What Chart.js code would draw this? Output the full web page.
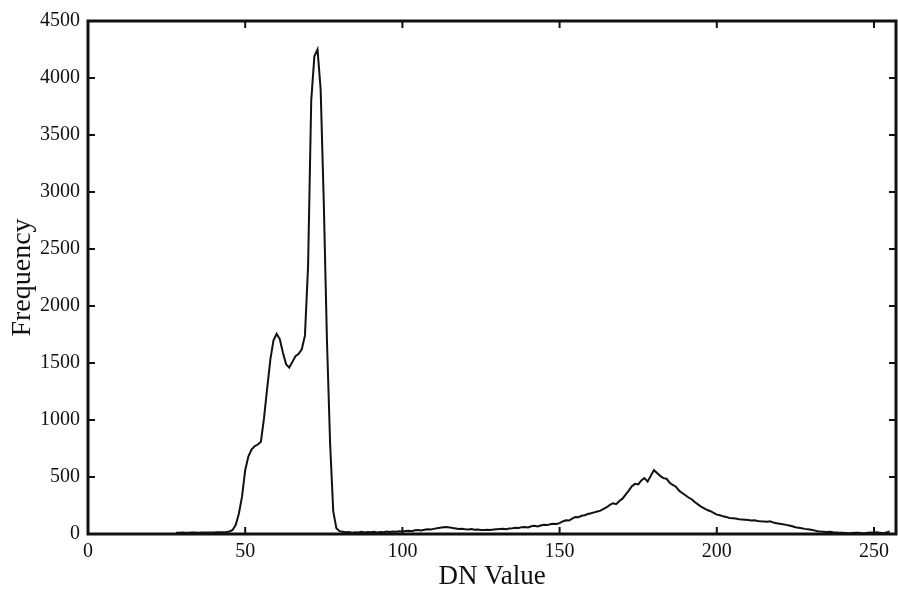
<!DOCTYPE html>
<html>
<head>
<meta charset="utf-8">
<script src="https://cdn.jsdelivr.net/npm/chart.js@4/dist/chart.umd.min.js"></script>
<style>
  html, body { margin: 0; padding: 0; background: #fff; }
  #histChart { display: block; }
</style>
</head>
<body>
<canvas id="histChart" width="898" height="595"></canvas>
<script>
// histogram of DN values, first non-empty bin is 28
const dnStart = 28;
const freq = [
    12, 12, 13, 12, 12, 13, 13, 12, 13, 14, 13, 14, 14, 15, 15, 16, 18, 22,
    35, 80, 180, 330, 560, 680, 740, 770, 785, 810, 1020, 1280, 1530, 1700, 1755,
    1710, 1590, 1490, 1460, 1510, 1560, 1580, 1620, 1740, 2350, 3800, 4190, 4250,
    3900, 2900, 1700, 800, 200, 50, 25,
    20, 15, 18, 12, 16, 14, 19, 13, 17, 15, 20, 14, 18, 16, 22, 17, 21, 19, 24,
    22, 26, 28, 25, 32, 34, 30, 38, 42, 40, 45, 50, 55, 60, 62, 58,
    52, 48, 44, 46, 42, 40, 44, 38, 40, 36, 35, 38, 36, 40, 42, 44, 46, 42, 48, 50,
    55, 52, 60, 62, 58, 68, 72, 66, 75, 80, 78, 85, 90, 88, 95,
    110, 120, 118, 135, 150, 148, 160, 165, 175, 182, 190, 198, 205, 220, 235,
    255, 270, 262, 290, 310, 345, 380, 420, 440, 435, 470, 490, 460, 510, 560,
    535, 510, 490, 485, 450, 430, 415, 380, 360, 340, 320, 305, 280, 260, 240,
    225, 210, 200, 185, 170, 165, 155, 150, 140, 138, 135, 130, 128, 125, 122, 118, 120, 115, 112, 110,
    108, 112, 100, 95, 90, 85, 80, 75, 68, 60, 55, 50, 45, 42, 38, 32, 25, 22, 20, 18,
    20, 16, 14, 12, 10, 8, 6, 8, 10, 12, 8, 6, 10, 14, 12, 16, 10, 6, 14, 22
];
const xTicks = [0, 50, 100, 150, 200, 250];
const yTicks = [0, 500, 1000, 1500, 2000, 2500, 3000, 3500, 4000, 4500];

const points = freq.map((f, i) => ({ x: dnStart + i, y: f }));

// box frame with inward tick marks, like the original plot
const frameTicks = {
    id: 'frameTicks',
    afterDraw(chart) {
        const ctx = chart.ctx;
        const a = chart.chartArea;
        const xs = chart.scales.x;
        const ys = chart.scales.y;
        const len = 7;
        ctx.save();
        ctx.strokeStyle = '#111';
        ctx.lineWidth = 2;
        ctx.beginPath();
        xTicks.forEach(function (v) {
            const px = xs.getPixelForValue(v);
            ctx.moveTo(px, a.bottom); ctx.lineTo(px, a.bottom - len);
            ctx.moveTo(px, a.top); ctx.lineTo(px, a.top + len);
        });
        yTicks.forEach(function (v) {
            const py = ys.getPixelForValue(v);
            ctx.moveTo(a.left, py); ctx.lineTo(a.left + len, py);
            ctx.moveTo(a.right, py); ctx.lineTo(a.right - len, py);
        });
        ctx.stroke();
        ctx.lineWidth = 3;
        ctx.strokeRect(a.left, a.top, a.right - a.left, a.bottom - a.top);
        ctx.restore();
    }
};

const plainLabel = function (value) { return String(value); };

const ctx = document.getElementById('histChart').getContext('2d');
new Chart(ctx, {
    type: 'line',
    data: {
        datasets: [{
            data: points,
            borderColor: '#111',
            borderWidth: 2,
            pointRadius: 0,
            tension: 0,
            fill: false
        }]
    },
    options: {
        responsive: false,
        animation: false,
        layout: { padding: { top: 21, right: 2, left: 0, bottom: 0 } },
        plugins: {
            legend: { display: false },
            tooltip: { enabled: false }
        },
        scales: {
            x: {
                type: 'linear',
                min: 0,
                max: 257,
                afterBuildTicks: function (scale) {
                    scale.ticks = xTicks.map(v => ({ value: v }));
                },
                afterFit: function (scale) { scale.height = 61; },
                grid: { display: false, drawTicks: false },
                border: { display: false },
                ticks: {
                    color: '#111',
                    padding: 6,
                    maxRotation: 0,
                    callback: plainLabel,
                    font: { family: 'Liberation Serif', size: 20 }
                },
                title: {
                    display: true,
                    text: 'DN Value',
                    color: '#111',
                    padding: { top: 0, bottom: 2 },
                    font: { family: 'Liberation Serif', size: 27 }
                }
            },
            y: {
                min: 0,
                max: 4500,
                afterBuildTicks: function (scale) {
                    scale.ticks = yTicks.map(v => ({ value: v }));
                },
                afterFit: function (scale) { scale.width = 88; },
                grid: { display: false, drawTicks: false },
                border: { display: false },
                ticks: {
                    color: '#111',
                    padding: 8,
                    callback: plainLabel,
                    font: { family: 'Liberation Serif', size: 20 }
                },
                title: {
                    display: true,
                    text: 'Frequency',
                    color: '#111',
                    padding: { top: 6, bottom: 0 },
                    font: { family: 'Liberation Serif', size: 28 }
                }
            }
        }
    },
    plugins: [frameTicks]
});
</script>
</body>
</html>
